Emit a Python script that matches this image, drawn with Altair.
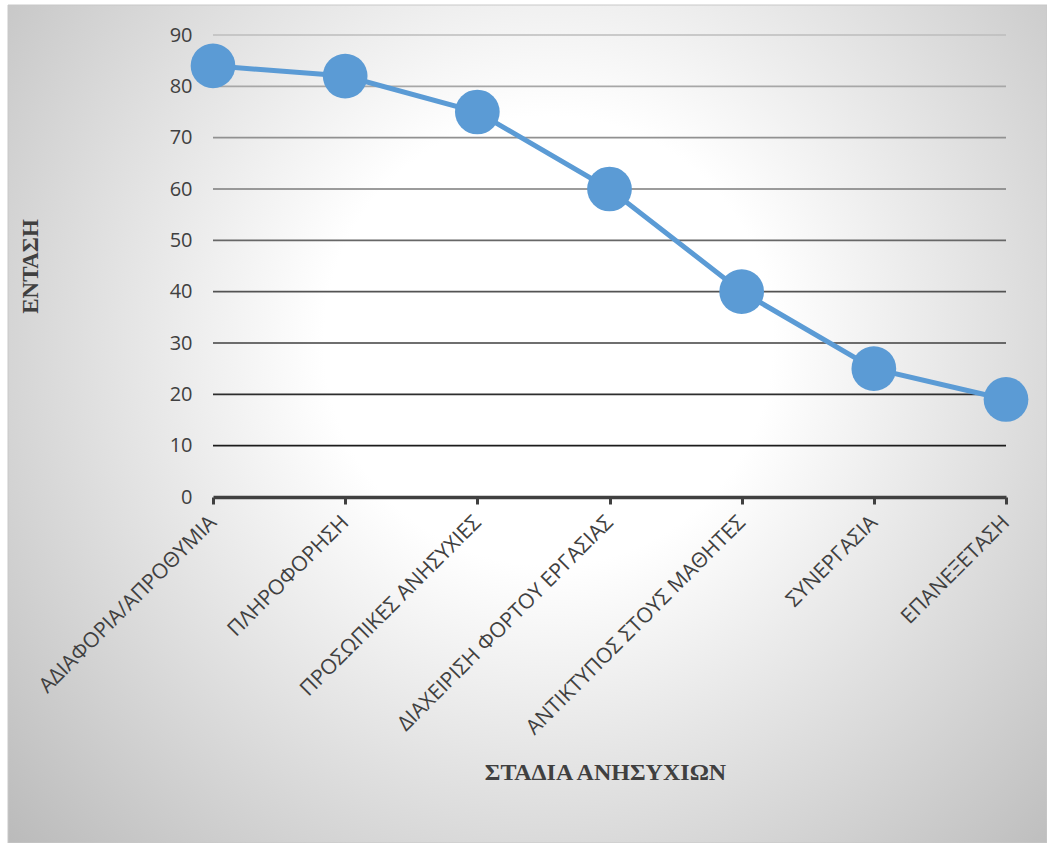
import altair as alt
import pandas as pd

# Stages of concern and their intensity
stages = [
    "ΑΔΙΑΦΟΡΙΑ/ΑΠΡΟΘΥΜΙΑ",
    "ΠΛΗΡΟΦΟΡΗΣΗ",
    "ΠΡΟΣΩΠΙΚΕΣ ΑΝΗΣΥΧΙΕΣ",
    "ΔΙΑΧΕΙΡΙΣΗ ΦΟΡΤΟΥ ΕΡΓΑΣΙΑΣ",
    "ΑΝΤΙΚΤΥΠΟΣ ΣΤΟΥΣ  ΜΑΘΗΤΕΣ",
    "ΣΥΝΕΡΓΑΣΙΑ",
    "ΕΠΑΝΕΞΕΤΑΣΗ",
]
intensity = [84, 82, 75, 60, 40, 25, 19]
grid_values = [10, 20, 30, 40, 50, 60, 70, 80, 90]
y_ticks = [0, 10, 20, 30, 40, 50, 60, 70, 80, 90]

df = pd.DataFrame({"stage": stages, "value": intensity})
grid_df = pd.DataFrame({"g": grid_values})
bg_df = pd.DataFrame({"k": [0]})

PLOT_W, PLOT_H = 793, 462
PAD = {"left": 213, "top": 35, "right": 41, "bottom": 346}
BLUE = "#5B9BD5"
TEXT = "#404040"

# Panel background with a radial white-to-grey fill
background = alt.Chart(bg_df).mark_rect(
    fill={
        "gradient": "radial",
        "x1": 0.52, "y1": 0.42, "r1": 0,
        "x2": 0.52, "y2": 0.42, "r2": 0.72,
        "stops": [
            {"offset": 0, "color": "#ffffff"},
            {"offset": 0.3, "color": "#ffffff"},
            {"offset": 1, "color": "#b9b9b9"},
        ],
    },
    stroke="#c8c8c8",
    strokeWidth=1,
).encode(
    x=alt.value(8 - PAD["left"]),
    x2=alt.value(1047 - PAD["left"]),
    y=alt.value(5 - PAD["top"]),
    y2=alt.value(843 - PAD["top"]),
)

y_axis = alt.Axis(
    zindex=1,
    values=y_ticks,
    title="ΕΝΤΑΣΗ",
    titleFont="Liberation Serif",
    titleFontSize=23,
    titleFontWeight="bold",
    titleColor=TEXT,
    titleX=-183,
    titleY=231,
    titleAngle=270,
    titleAlign="center",
    titleBaseline="middle",
    labelFont="Open Sans",
    labelFontSize=20,
    labelColor=TEXT,
    labelPadding=21,
    domain=False,
    ticks=False,
    grid=False,
)
y_scale = alt.Scale(domain=[0, 90], nice=False)

# Horizontal gridlines, lighter towards the top
grid = alt.Chart(grid_df).mark_rule(strokeWidth=1.6).encode(
    y=alt.Y("g:Q", scale=y_scale, axis=y_axis),
    color=alt.Color(
        "g:Q",
        scale=alt.Scale(domain=[10, 90], range=["#1c1c1c", "#bdbdbd"]),
        legend=None,
    ),
)

x_enc = alt.X(
    "stage:N",
    sort=stages,
    scale=alt.Scale(type="point", padding=0),
    axis=alt.Axis(
        zindex=1,
        title="ΣΤΑΔΙΑ ΑΝΗΣΥΧΙΩΝ",
        titleFont="Liberation Serif",
        titleFontSize=24,
        titleFontWeight="bold",
        titleColor=TEXT,
        titleX=392,
        titleY=275,
        titleAnchor="middle",
        titleBaseline="middle",
        labelAngle=315,
        labelAlign="right",
        labelBaseline="middle",
        labelPadding=15,
        labelFont="Open Sans",
        labelFontSize=21,
        labelColor=TEXT,
        labelLimit=400,
        labelOverlap=False,
        domainColor=TEXT,
        domainWidth=3.5,
        tickColor=TEXT,
        tickWidth=3,
        tickSize=7,
        grid=False,
    ),
)

y_enc = alt.Y("value:Q", scale=y_scale, axis=y_axis)

line = alt.Chart(df).mark_line(color=BLUE, strokeWidth=5).encode(x=x_enc, y=y_enc)
points = alt.Chart(df).mark_circle(color=BLUE, opacity=1, size=2000).encode(
    x=alt.X("stage:N", sort=stages), y="value:Q"
)

chart = (
    alt.layer(background, grid, line, points)
    .properties(
        width=PLOT_W,
        height=PLOT_H,
        padding=PAD,
        autosize=alt.AutoSizeParams(type="none"),
        background="white",
    )
    .configure_view(stroke=None)
)

chart.save("out.html", embed_options={"renderer": "svg", "actions": False})
